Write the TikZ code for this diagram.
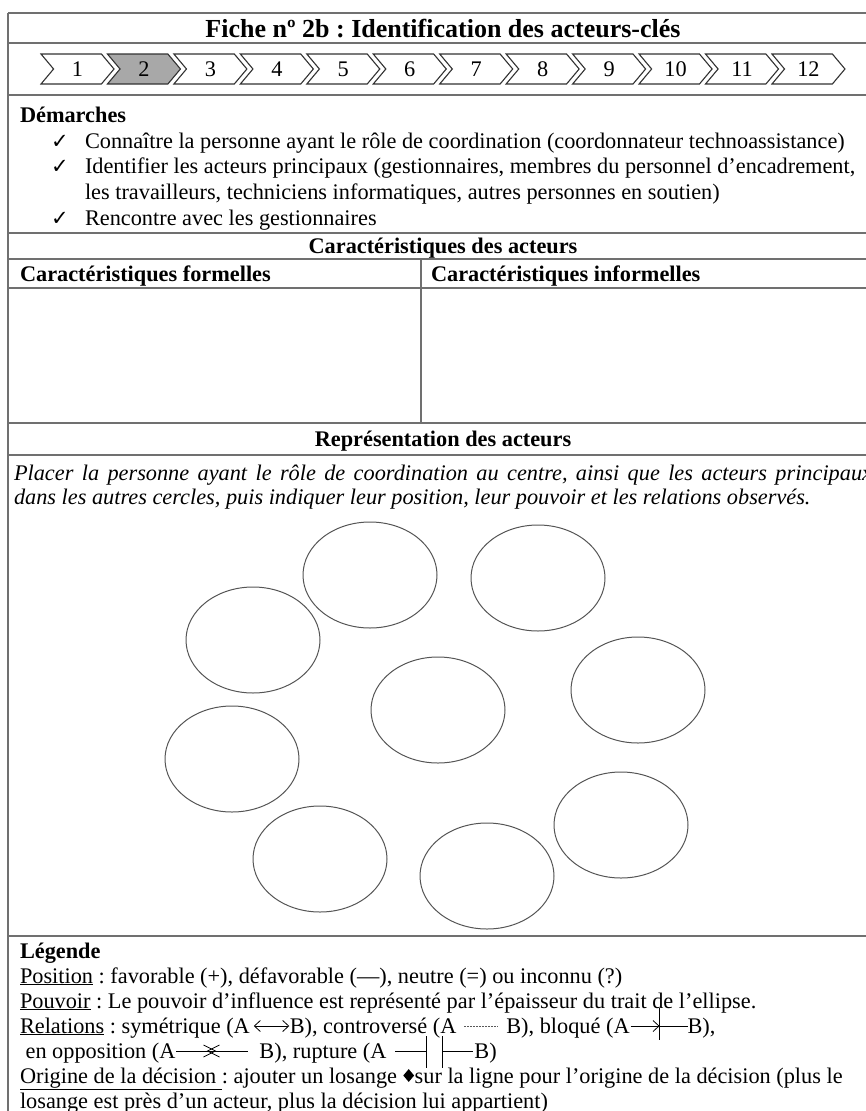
\documentclass[tikz,border=0pt]{standalone}
\usepackage{fontspec}
\setmainfont{Liberation Serif}
\newfontfamily\checkfont{DejaVu Sans}
\usetikzlibrary{shapes.geometric,shapes.symbols,arrows.meta}
\frenchspacing

\definecolor{rulegray}{RGB}{112,112,112}
\definecolor{stepfill}{RGB}{168,168,168}
\definecolor{inkgray}{RGB}{50,50,50}
\definecolor{ringgray}{RGB}{85,85,85}

\newcommand\bodysize{\fontsize{22.3}{24}\selectfont}
\newcommand\titlesize{\fontsize{26}{28}\selectfont}

\tikzset{
  rule/.style={draw=rulegray, line width=1.5pt},
  txt/.style={anchor=base west, inner sep=0pt, outer sep=0pt, font=\bodysize},
  bold/.style={txt, font=\bodysize\bfseries},
  hdr/.style={anchor=base, inner sep=0pt, font=\bodysize\bfseries},
  note/.style={txt, font=\bodysize\itshape},
  chk/.style={anchor=base, inner sep=0pt, font=\checkfont\fontsize{21}{21}\selectfont},
  stepbox/.style={shape=signal, signal from=west, signal to=east,
    signal pointer angle=100, minimum width=73pt, minimum height=30pt,
    inner sep=0pt, draw=inkgray, line width=1.1pt, font=\bodysize},
  actor/.style={ellipse, draw=ringgray, line width=1pt, minimum width=134pt,
    minimum height=106pt, inner sep=0pt},
  sym/.style={draw=black, line width=0.8pt,
    >={Straight Barb[length=6pt, width=11pt, line width=0.8pt]}},
  dots/.style={draw=black!65, line width=0.5pt, dash pattern=on 1.6pt off 1.4pt},
  bar/.style={draw=black, line width=0.8pt},
  lozenge/.style={diamond, fill=black, minimum width=11pt, minimum height=13pt, inner sep=0pt}
}

\begin{document}
\begin{tikzpicture}[x=1pt, y=-1pt]
\useasboundingbox (0,0) rectangle (866,1111);
\clip (0,0) rectangle (866,1111);

% table frame
\foreach \yy in {13,43,95,233,259,288,423,455,936}
  \draw[rule] (8,\yy) -- (878,\yy);
\draw[rule] (8,13) -- (8,1120);
\draw[rule] (878,13) -- (878,1120);
\draw[rule] (421,259) -- (421,423);

% title
\node[anchor=base, inner sep=0pt, font=\titlesize\bfseries] (title) at (443,37)
  {Fiche nº 2b : Identification des acteurs-clés};

% process steps
\foreach \i/\f in {1/white,2/stepfill,3/white,4/white,5/white,6/white,
                   7/white,8/white,9/white,10/white,11/white,12/white}
  \node[stepbox, fill=\f] (s\i) at ({41+(\i-1)*66.45+36.5},69) {\i};

% Démarches
\node[bold] (dem) at (20,122) {Démarches};
\node[chk] (c1) at (60,148) {✓};
\node[txt] (d1) at (85,148) {Connaître la personne ayant le rôle de coordination (coordonnateur technoassistance)};
\node[chk] (c2) at (60,173.5) {✓};
\node[txt] (d2) at (85,173.5) {Identifier les acteurs principaux (gestionnaires, membres du personnel d’encadrement,};
\node[txt] (d2b) at (85,199) {les travailleurs, techniciens informatiques, autres personnes en soutien)};
\node[chk] (c3) at (60,225) {✓};
\node[txt] (d3) at (85,225) {Rencontre avec les gestionnaires};

% characteristics
\node[hdr] (car) at (443,253) {Caractéristiques des acteurs};
\node[bold] (form) at (20,281) {Caractéristiques formelles};
\node[bold] (inform) at (431,281) {Caractéristiques informelles};

% representation
\node[hdr] (rep) at (443,446) {Représentation des acteurs};
\node[note] (n1) at (14,480) {\makebox[858pt][s]{Placer la personne ayant le rôle de coordination au centre, ainsi que les acteurs principaux}};
\node[note] (n2) at (14,504) {dans les autres cercles, puis indiquer leur position, leur pouvoir et les relations observés.};

% actor rings
\node[actor] (a1) at (370,575) {};
\node[actor] (a2) at (538,578) {};
\node[actor] (a3) at (253,640) {};
\node[actor] (a4) at (438,710) {};
\node[actor] (a5) at (638,690) {};
\node[actor] (a6) at (232,759) {};
\node[actor] (a7) at (320,859) {};
\node[actor] (a8) at (487,876) {};
\node[actor] (a9) at (621,825) {};

% legend
\node[bold] (leg) at (20,958) {Légende};
\node[txt] (pos) at (20,983) {\underline{Position} : favorable (+), défavorable (—), neutre (=) ou inconnu (?)};
\node[txt] (pouv) at (20,1008) {\underline{Pouvoir} : Le pouvoir d’influence est représenté par l’épaisseur du trait de l’ellipse.};

% relations row
\node[txt] (relA) at (20,1033) {\underline{Relations} : symétrique (A};
\node[txt, xshift=40pt] (relB) at (relA.base east) {B), controversé (A};
\draw[sym, <->] ([xshift=4pt,yshift=7pt]relA.base east) -- ([xshift=-0.5pt,yshift=7pt]relB.base west);
\node[txt, xshift=50pt] (relC) at (relB.base east) {B), bloqué (A};
\draw[dots] ([xshift=8pt,yshift=7pt]relB.base east) -- ([xshift=-8pt,yshift=7pt]relC.base west);
\node[txt, xshift=58pt] (relD) at (relC.base east) {B),};
\coordinate (blk) at ([xshift=30pt]relC.base east);
\draw[sym, ->] ([xshift=1pt,yshift=7pt]relC.base east) -- ([yshift=7pt]blk);
\draw[bar] ([yshift=25pt]blk) -- ([yshift=-7pt]blk);
\draw[sym] ([yshift=7pt]blk) -- ([yshift=7pt]relD.base west);

% opposition / rupture row
\node[txt] (oppA) at (20,1058) {\hspace{5.6pt}en opposition (A};
\node[txt, xshift=84pt] (oppB) at (oppA.base east) {B), rupture (A};
\coordinate (opx) at ([xshift=36pt,yshift=7pt]oppA.base east);
\draw[sym] ([xshift=1pt,yshift=7pt]oppA.base east) -- ([xshift=73pt,yshift=7pt]oppA.base east);
\draw[sym] ([xshift=-8pt,yshift=6pt]opx) -- ([xshift=4pt]opx) -- ([xshift=-8pt,yshift=-6pt]opx);
\draw[sym] ([xshift=8pt,yshift=6pt]opx) -- ([xshift=-4pt]opx) -- ([xshift=8pt,yshift=-6pt]opx);
\node[txt, xshift=88pt] (rupB) at (oppB.base east) {B)};
\coordinate (cut1) at ([xshift=40pt]oppB.base east);
\coordinate (cut2) at ([xshift=56pt]oppB.base east);
\draw[sym] ([xshift=9pt,yshift=7pt]oppB.base east) -- ([yshift=7pt]cut1);
\draw[bar] ([yshift=22pt]cut1) -- ([yshift=-10pt]cut1);
\draw[bar] ([yshift=22pt]cut2) -- ([yshift=-10pt]cut2);
\draw[sym] ([yshift=7pt]cut2) -- ([xshift=-1pt,yshift=7pt]rupB.base west);

% decision origin
\node[txt] (origA) at (20,1083) {\underline{Origine de la décision\ }: ajouter un losange\ \ };
\node[lozenge] (lz) at ([xshift=6pt,yshift=7.5pt]origA.base east) {};
\node[txt, xshift=12pt] (origB) at (origA.base east) {sur la ligne pour l’origine de la décision (plus le};
\node[txt] (origC) at (20,1108) {losange est près d’un acteur, plus la décision lui appartient)};
\end{tikzpicture}
\end{document}
